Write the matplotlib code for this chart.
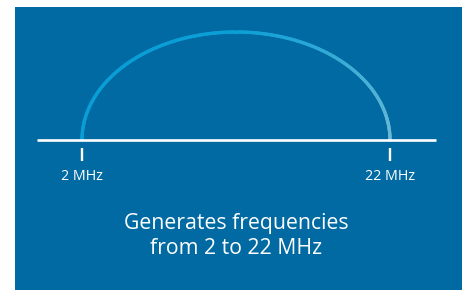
import matplotlib
matplotlib.use('Agg')
import matplotlib.pyplot as plt
import numpy as np
from matplotlib.collections import LineCollection
from matplotlib.colors import LinearSegmentedColormap
from matplotlib.patches import Rectangle

# frequency range shown on the diagram
freq_start = 2
freq_end = 22
tick_freqs = [freq_start, freq_end]
tick_labels = ['2 MHz', '22 MHz']
caption = 'Generates frequencies\nfrom 2 to 22 MHz'

bg = '#016aa2'
W, H, dpi = 466, 290, 100
fig = plt.figure(figsize=(W / dpi, H / dpi), dpi=dpi, facecolor='white')

ax = fig.add_axes([0, 0, 1, 1])
ax.set_facecolor('none')
px = (390 - 82) / (freq_end - freq_start)
ax.set_xlim(freq_start - 82 / px, freq_end + (W - 390) / px)
ax.set_ylim(-150, 140)
ax.axis('off')

# blue panel
ax.add_patch(Rectangle((15 / W, 0), (462 - 15) / W, (290 - 7) / H,
                       transform=fig.transFigure, facecolor=bg,
                       edgecolor='none', zorder=0))

# baseline
ax.plot([freq_start - 45 / px, freq_end + 46 / px], [0, 0], color='white',
        lw=1.9, solid_capstyle='butt', zorder=3)

# half-ellipse arc with gradient
t = np.linspace(np.pi, 0, 300)
mid = (freq_start + freq_end) / 2
half = (freq_end - freq_start) / 2
xs = mid + half * np.cos(t)
ys = 108 * np.sin(t)
pts = np.column_stack([xs, ys]).reshape(-1, 1, 2)
segs = np.concatenate([pts[:-1], pts[1:]], axis=1)
cmap = LinearSegmentedColormap.from_list('arc', ['#0a9dd6', '#0a9fd6', '#6ab9d6'])
lc = LineCollection(segs, cmap=cmap, linewidths=2.4, capstyle='round', zorder=2)
lc.set_array(np.linspace(0, 1, len(segs)))
ax.add_collection(lc)

# ticks and labels
for f, lab in zip(tick_freqs, tick_labels):
    ax.plot([f, f], [-8, -21], color='white', lw=1.7, solid_capstyle='butt')
    ax.text(f, -36, lab, color='white', fontsize=10.3, ha='center', va='center',
            family='Open Sans')

ax.text(mid, -96, caption, color='white', fontsize=15.3, ha='center',
        va='center', family='Open Sans', linespacing=1.3)

fig.savefig('out.png', dpi=dpi, facecolor='white')
